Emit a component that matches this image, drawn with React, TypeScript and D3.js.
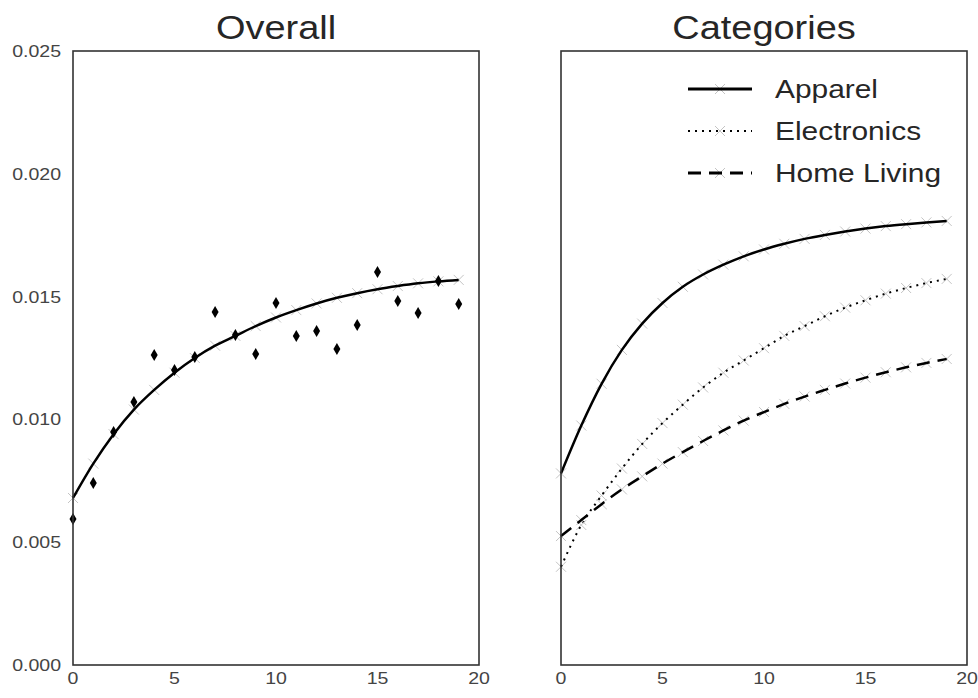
import React from 'react';
import * as d3 from 'd3';

// data
const steps = d3.range(0, 20);
const overallObs = [0.00594, 0.00741, 0.00949, 0.01071, 0.01262, 0.01201, 0.01254, 0.01437, 0.01344, 0.01266,
  0.01474, 0.0134, 0.0136, 0.01287, 0.01384, 0.016, 0.01482, 0.01433, 0.01564, 0.0147];
const overallFit = [0.0068, 0.0082, 0.0094, 0.0104, 0.0112, 0.0119, 0.0125, 0.013, 0.0134, 0.0138,
  0.01415, 0.01445, 0.01472, 0.01495, 0.01514, 0.0153, 0.01543, 0.01554, 0.01562, 0.01568];
const apparel = [0.0078, 0.00975, 0.01145, 0.01283, 0.0139, 0.01474, 0.0154, 0.0159, 0.0163, 0.01664,
  0.01692, 0.01715, 0.01735, 0.01751, 0.01765, 0.01777, 0.01787, 0.01795, 0.01802, 0.01808];
const electronics = [0.004, 0.0057, 0.0069, 0.008, 0.009, 0.00985, 0.0106, 0.0113, 0.0119, 0.0124,
  0.0129, 0.0134, 0.0138, 0.0142, 0.01455, 0.01485, 0.01512, 0.01535, 0.01555, 0.01572];
const homeLiving = [0.00525, 0.0059, 0.00655, 0.00715, 0.00768, 0.0082, 0.00867, 0.00912, 0.00955, 0.00995,
  0.0103, 0.01063, 0.01093, 0.0112, 0.01146, 0.0117, 0.01192, 0.01212, 0.0123, 0.01246];
const categories = ['Apparel', 'Electronics', 'Home Living'];
const categorySeries = [apparel, electronics, homeLiving];
const dashes = ['none', '2,5', '13,8'];
const xTicks = [0, 5, 10, 15, 20];
const yTicks = [0, 0.005, 0.01, 0.015, 0.02, 0.025];

const W = 978, H = 698;
const top = 51, bottom = 665;
const font = '"Liberation Sans", Arial, sans-serif';
const ink = '#262626';
const stretch = 1.15;

const y = d3.scaleLinear().domain([0, 0.025]).range([bottom, top]);

// text drawn a bit wider, like the reference
const T = ({ x, y, size, anchor = 'middle', base = 'auto', fill = ink, children }: any) => (
  <text transform={`translate(${x},${y}) scale(${stretch},1)`} fontSize={size} fontFamily={font}
    textAnchor={anchor} dominantBaseline={base} fill={fill}>{children}</text>
);

const Crosses = ({ xs, vals }: any) => (
  <g stroke="#c4c4c4" strokeWidth={1}>
    {vals.map((v: number, i: number) => {
      const cx = xs(steps[i]), cy = y(v);
      return <path key={i} d={`M${cx - 5},${cy - 5}L${cx + 5},${cy + 5}M${cx - 5},${cy + 5}L${cx + 5},${cy - 5}`} />;
    })}
  </g>
);

const Panel = ({ left, right, title, children, yLabels }: any) => {
  const x = d3.scaleLinear().domain([0, 20]).range([left, right]);
  return (
    <g>
      <T x={(left + right) / 2} y={39} size={33}>{title}</T>
      {children(x)}
      <rect x={left} y={top} width={right - left} height={bottom - top} fill="none" stroke="#333" strokeWidth={1.6} />
      {xTicks.map(t => <T key={t} x={x(t)} y={678} size={17} base="central" fill="#444">{t}</T>)}
      {yLabels && yTicks.map(t => <T key={t} x={left - 12} y={y(t)} size={17} anchor="end" base="central" fill="#444">{d3.format('.3f')(t)}</T>)}
    </g>
  );
};

export default function App() {
  return (
    <svg width={W} height={H} style={{ position: 'absolute', left: 0, top: 0, background: '#fff' }}>
      <Panel left={73} right={479} title="Overall" yLabels>
        {(x: any) => {
          const line = d3.line<number>().x((_, i) => x(steps[i])).y(d => y(d)).curve(d3.curveMonotoneX);
          return (
            <g>
              <Crosses xs={x} vals={overallFit} />
              <path d={line(overallFit) || ''} fill="none" stroke="#000" strokeWidth={2.5} />
              {overallObs.map((v, i) => {
                const cx = x(steps[i]), cy = y(v);
                return <path key={i} d={`M${cx},${cy - 6}L${cx + 3.5},${cy}L${cx},${cy + 6}L${cx - 3.5},${cy}Z`} fill="#000" />;
              })}
            </g>
          );
        }}
      </Panel>
      <Panel left={561} right={967} title="Categories">
        {(x: any) => {
          const line = d3.line<number>().x((_, i) => x(steps[i])).y(d => y(d)).curve(d3.curveMonotoneX);
          return (
            <g>
              {categorySeries.map((s, k) => (
                <g key={k}>
                  <Crosses xs={x} vals={s} />
                  <path d={line(s) || ''} fill="none" stroke="#000" strokeWidth={k === 1 ? 2 : 2.5}
                    strokeDasharray={dashes[k]} />
                </g>
              ))}
              {categories.map((c, k) => {
                const ly = 89 + k * 42;
                return (
                  <g key={c}>
                    <path d={`M715,${ly - 5}L725,${ly + 5}M715,${ly + 5}L725,${ly - 5}`} stroke="#c4c4c4" strokeWidth={1} />
                    <line x1={688} x2={752} y1={ly} y2={ly} stroke="#000" strokeWidth={k === 1 ? 2 : 3}
                      strokeDasharray={dashes[k]} />
                    <T x={775} y={ly} size={26} anchor="start" base="central">{c}</T>
                  </g>
                );
              })}
            </g>
          );
        }}
      </Panel>
    </svg>
  );
}
